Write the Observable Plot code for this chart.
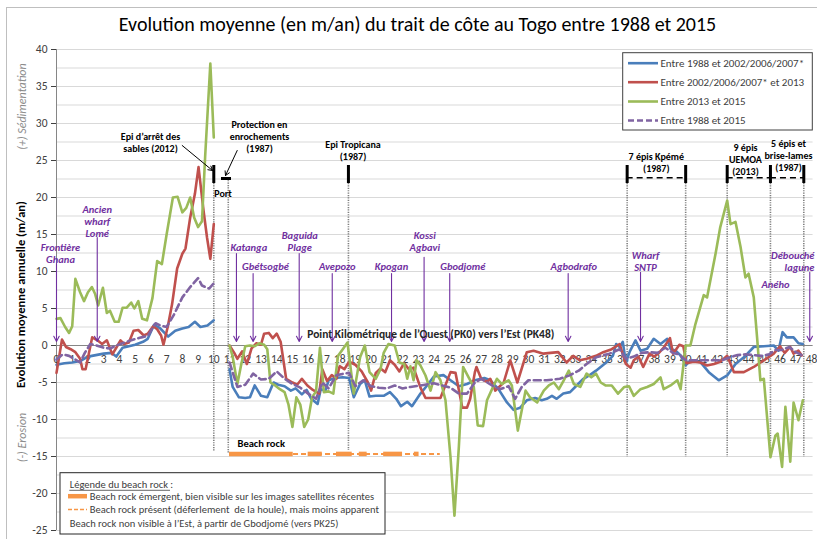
<!DOCTYPE html>
<html><head><meta charset="utf-8">
<script src="https://cdn.jsdelivr.net/npm/d3@7"></script>
<script src="https://cdn.jsdelivr.net/npm/@observablehq/plot@0.6"></script>
<style>
body{margin:0;background:#fff;}
svg{display:block;overflow:hidden !important;}
</style>
</head><body><div id="chart"></div>
<script>
// ---------- DATA ----------
const titleText = "Evolution moyenne (en m/an) du trait de côte au Togo entre 1988 et 2015";
const seriesNames = ["Entre 1988 et 2002/2006/2007*", "Entre 2002/2006/2007* et 2013", "Entre 2013 et 2015", "Entre 1988 et 2015"];
const seriesColors = ["#4a7ebb", "#c0504d", "#9bbb59", "#8064a2"];
const xTickLabels = [0,1,2,3,4,5,6,7,8,9,10,11,12,13,14,15,16,17,18,19,20,21,22,23,24,25,26,27,28,29,30,31,32,33,34,35,36,37,38,39,40,41,42,43,44,45,46,47,48];
const yTickLabels = [40,35,30,25,20,15,10,5,0,-5,-10,-15,-20,-25];
const yGridValues = [40,37.5,35,32.5,30,27.5,25,22.5,20,17.5,15,12.5,10,7.5,5,2.5,0,-2.5,-5,-7.5,-10,-12.5,-15,-17.5,-20,-22.5,-25];

// West of the port (PK0 - PK10)
const blueWestPk = [0,0.5,1,1.5,2,2.5,3,3.5,3.8,4.2,4.6,5,5.5,5.8,6.2,6.6,7.1,7.55,8,8.4,8.8,9.15,9.6,10];
const blueWestV  = [-2.6,-2.4,-2.3,-2.1,-1.5,-1.3,-1.1,-1.0,-1.5,-0.3,-0.1,0.1,0.5,0.9,2.8,2.3,1.2,2.0,2.3,2.5,3.2,2.5,2.7,3.4];
const redWestPk = [0,0.35,0.6,0.9,1.2,1.5,1.65,1.85,2.27,2.6,2.9,3.2,3.55,3.8,4.07,4.3,4.6,4.9,5.2,5.55,5.8,6.15,6.4,6.65,6.8,7.07,7.35,7.67,8.0,8.2,8.5,8.8,9.03,9.35,9.57,9.78,10];
const redWestV  = [-3.7,0.8,-0.2,-0.5,-0.9,-1.8,-3.2,-3.2,1.1,0.7,0.2,0.7,-1.2,-0.3,0.7,0.2,0.4,2.0,2.1,1.35,1.6,2.6,2.2,1.35,0.1,2.5,5.6,10.4,12.4,13.1,17.3,20.5,24.1,18.2,14.6,11.7,16.4];
const greenWestPk = [0,0.25,0.55,0.8,1.0,1.2,1.5,1.75,2.0,2.25,2.45,2.65,2.95,3.2,3.4,3.7,3.95,4.2,4.45,4.75,4.95,5.2,5.45,5.75,6.1,6.4,6.7,7.0,7.4,7.7,8.0,8.25,8.5,8.75,9.0,9.25,9.45,9.78,10];
const greenWestV  = [3.6,3.7,2.5,1.7,2.6,9.0,7.2,6.0,7.2,7.9,7.0,5.4,7.8,4.4,4.7,3.2,3.2,5.1,5.1,5.8,5.0,6.0,3.6,3.4,6.4,11.4,11.0,15.0,20.0,20.1,18.0,18.6,20.0,17.3,16.0,16.8,25.5,38.1,28.1];
const purpleWestPk = [0,0.4,0.8,1.2,1.5,1.8,2.15,2.4,2.7,3.0,3.4,3.8,4.2,4.6,4.9,5.4,5.8,6.3,6.6,7.0,7.45,8.0,8.5,9.0,9.25,9.7,10];
const purpleWestV  = [-1.9,-1.2,-1.4,-1.9,-2.3,-1.0,0.2,0.1,-0.1,-0.3,-0.4,0.0,0.3,0.6,0.8,1.1,1.3,3.0,2.7,2.5,4.1,6.5,7.9,9.1,8.1,7.7,8.4];

// East of the port (PK11 - PK47.5)
const blueEastPk = [11.0,11.2,11.6,12.0,12.3,12.6,13.0,13.4,13.8,14.1,14.5,14.9,15.2,15.6,15.9,16.2,16.6,16.8,17.1,17.3,17.7,18.2,18.6,18.9,19.3,19.6,19.9,20.3,20.8,21.2,21.6,21.9,22.3,22.6,23.14,23.56,23.99,24.6,25.05,25.58,26.1,26.6,27.2,27.58,28.1,28.64,29.06,29.48,29.9,30.43,30.85,31.17,31.5,31.8,32.22,32.65,33.07,33.5,33.9,34.3,34.95,35.37,35.58,35.8,36.0,36.2,36.45,36.81,37.13,37.55,37.97,38.4,38.83,39.04,39.36,39.68,40.0,40.3,40.94,41.47,42.1,42.64,43.17,43.7,44.33,44.97,45.6,45.9,46.16,46.43,46.86,47.17,47.45];
const blueEastV  = [-3.2,-5.6,-7.0,-7.1,-7.0,-5.4,-6.8,-7.0,-5.0,-5.3,-5.5,-6.1,-5.8,-6.6,-6.0,-7.2,-7.9,-5.9,-6.1,-4.7,-4.4,-4.3,-4.4,-7.0,-5.2,-4.7,-6.9,-6.8,-6.8,-6.3,-7.2,-8.2,-7.6,-8.2,-6.5,-5.4,-4.2,-4.0,-4.7,-5.5,-5.2,-4.7,-4.4,-4.7,-5.9,-7.7,-8.7,-8.4,-7.4,-7.1,-7.4,-7.2,-6.8,-7.2,-6.5,-6.3,-5.4,-4.5,-4.0,-3.4,-2.3,-1.4,0.2,-0.2,0.5,-2.3,-0.8,0.7,-0.7,-0.45,0.9,0.2,0.9,-0.45,-0.7,-1.35,-2.7,-2.0,-2.25,-3.6,-4.7,-4.05,-2.5,-1.6,-0.2,-0.1,0.0,-0.7,1.8,1.1,1.1,0.3,0.2];
const redEastPk = [11.0,11.3,11.5,11.8,12.1,12.4,12.7,13.0,13.2,13.5,13.75,14.0,14.25,14.6,15.0,15.3,15.6,15.95,16.3,16.7,16.9,17.2,17.5,17.8,18.0,18.3,18.6,19.0,19.4,19.8,20.0,20.3,20.6,20.9,21.2,21.5,21.8,22.1,22.4,22.7,23.14,23.46,24.41,25.05,25.37,25.8,26.1,26.3,26.6,26.7,27.0,27.37,27.58,27.9,28.43,28.85,29.3,29.9,30.33,30.96,31.4,31.9,32.43,32.85,33.28,33.7,34.3,34.76,35.3,35.8,36.2,36.5,36.7,37.0,37.3,37.7,38.0,38.3,38.6,39.0,39.2,39.6,39.85,40.05,40.5,40.94,41.36,41.8,42.2,42.64,43.07,43.7,44.33,44.97,45.6,46.0,46.3,46.65,46.86,47.17,47.38];
const redEastV  = [0.0,-1.0,-1.8,-0.8,-2.5,-0.4,0.3,0.1,1.6,1.7,1.0,1.6,0.5,-4.5,-5.0,-5.3,-4.5,-5.4,-6.0,-6.5,-3.2,-4.8,-4.0,-4.5,-2.8,-3.2,-2.2,-2.6,-3.5,-5.0,-6.1,-3.7,-3.1,-3.6,-2.0,-2.6,-3.5,-2.4,-3.2,-3.0,-5.7,-7.1,-7.1,-3.6,-3.7,-8.4,-8.4,-7.2,-3.6,-2.9,-4.5,-4.9,-4.5,-6.1,-5.0,-2.0,-5.0,-0.9,-0.7,-1.1,-1.0,-0.9,-2.3,-1.4,-2.0,-1.8,-1.4,-0.9,-0.5,0.2,-2.5,-3.0,-2.0,-1.5,-2.9,-1.1,-1.5,-1.0,-0.3,1.0,-1.1,0.1,-0.1,-2.4,-2.2,-2.3,-2.7,-2.5,-2.2,-1.4,-3.6,-3.6,-2.9,-2.0,-1.1,-0.1,-1.0,-0.2,-1.1,-0.7,-1.35];
const greenEastPk = [11.0,11.2,11.5,11.75,12.0,12.3,12.6,12.9,13.2,13.4,13.6,13.9,14.2,14.5,14.75,15.0,15.25,15.5,15.75,16.0,16.25,16.5,16.75,17.0,17.3,17.6,17.9,18.2,18.5,18.9,19.3,19.6,19.9,20.3,20.6,20.8,21.1,21.5,21.8,22.1,22.3,22.5,22.7,22.9,23.14,23.46,23.78,24.1,24.41,24.73,25.05,25.3,25.58,25.85,26.2,26.53,26.78,27.12,27.37,27.69,28.0,28.3,28.74,28.95,29.33,29.82,30.1,30.56,30.98,31.3,31.62,31.94,32.25,32.57,32.89,33.3,33.7,34.0,34.3,34.6,34.9,35.3,35.7,36.1,36.4,36.7,37.13,37.55,37.97,38.4,38.6,39.04,39.47,39.68,40.0,40.3,40.62,41.15,41.36,41.9,42.2,42.64,42.85,43.17,43.49,43.8,44.0,44.33,44.54,44.75,44.97,45.39,45.7,45.85,46.13,46.34,46.65,46.86,47.17,47.45];
const greenEastV  = [0.0,-1.5,-5.2,-2.5,-0.1,0.0,-0.1,0.3,0.1,-0.5,-5.0,-5.4,-5.9,-6.3,-8.0,-11.0,-7.0,-8.0,-11.0,-10.0,-7.0,-6.2,-0.3,-6.3,-6.2,-6.5,-1.4,-0.5,0.4,-6.5,-1.6,0.0,-3.6,-4.5,-3.2,-1.0,0.2,0.0,-2.3,-2.5,-4.5,-2.8,-4.7,-2.0,-2.7,-4.05,-6.1,-3.6,-4.7,-7.4,-15.1,-23.0,-13.7,-2.9,-4.3,-5.6,-10.8,-10.9,-7.4,-5.9,-4.5,-5.2,-4.7,-5.4,-11.5,-6.1,-7.0,-7.7,-6.1,-5.4,-5.0,-5.9,-4.7,-3.4,-5.2,-5.6,-3.8,-4.3,-3.8,-5.0,-5.4,-5.4,-6.5,-5.6,-5.5,-6.8,-5.9,-5.6,-5.2,-4.3,-5.9,-5.4,-4.7,-5.9,0.0,0.0,2.9,6.8,6.5,12.4,16.0,19.6,16.4,16.7,13.3,9.2,9.7,6.5,1.1,-4.7,-4.5,-15.1,-12.2,-11.9,-16.4,-8.3,-15.7,-7.7,-10.1,-7.4];
const purpleEastPk = [11.0,11.5,12.0,12.5,13.0,13.5,14.0,14.5,15.0,15.5,16.0,16.5,16.9,17.3,17.8,18.3,18.6,19.0,19.5,20.0,20.5,21.0,21.5,22.0,22.5,23.14,23.99,25.05,25.58,26.1,26.6,27.0,27.69,28.2,28.74,29.16,29.58,30.0,31.17,32.0,32.65,33.2,33.7,34.3,35.16,35.8,36.2,36.7,37.2,37.7,38.2,38.7,39.2,39.6,40.0,40.6,41.2,41.8,42.3,42.8,43.3,43.8,44.3,44.8,45.3,45.7,46.1,46.6,47.0,47.4];
const purpleEastV  = [-2.3,-5.6,-5.3,-3.8,-4.6,-4.5,-3.5,-4.5,-5.2,-5.7,-6.5,-7.2,-5.0,-5.8,-4.0,-3.8,-3.7,-5.5,-4.7,-5.5,-5.7,-5.8,-5.4,-5.8,-5.6,-5.4,-5.1,-5.7,-6.5,-6.5,-5.0,-4.5,-5.4,-5.9,-5.5,-7.2,-5.6,-4.7,-4.7,-4.5,-4.0,-3.4,-2.5,-1.6,-1.1,-0.5,-1.8,-1.5,-1.0,-0.9,-1.0,-0.3,-1.0,-1.2,-2.0,-2.0,-2.0,-2.0,-2.0,-1.6,-1.3,-1.2,-1.3,-1.4,-1.2,-0.6,-0.6,-0.2,-0.9,-1.3];

// Beach rock (PK ranges)
const beachRockPresent = [[11.0, 24.4]];
const beachRockEmergent = [[11.0,15.05],[16.0,16.9],[17.8,18.8],[19.25,19.75],[20.8,22.0],[22.75,23.05]];
const beachLegendTexts = ["Beach rock émergent, bien visible sur les images satellites récentes", "Beach rock présent (déferlement  de la houle), mais moins apparent", "Beach rock non visible à l’Est, à partir de Gbodjomé (vers PK25)"];

// Localities (purple) and coastal structures (black)
const placeNames = ["Frontière\nGhana","Ancien\nwharf\nLomé","Katanga","Gbétsogbé","Baguida\nPlage","Avepozo","Kpogan","Kossi\nAgbavi","Gbodjomé","Agbodrafo","Wharf\nSNTP","Aného"];
const placePk = [0, 2.59, 11.44, 12.5, 15.43, 17.53, 21.3, 23.37, 25.0, 32.53, 37.13, null];
const edgePlaceName = "Débouché\nlagune";
const edgePlacePk = 47.89;
const structureNames = ["Epi d’arrêt des\nsables (2012)","Protection en\nenrochements\n(1987)","Port","Epi Tropicana\n(1987)","7 épis Kpémé\n(1987)","9 épis\nUEMOA\n(2013)","5 épis et\nbrise-lames\n(1987)"];
const structurePk = [10.0, 18.56, 36.28, 40.0, 42.64, 45.39, 47.51];
const dottedPk = [10.0, 10.92, 18.56, 36.28, 40.0, 42.64, 45.39, 47.51];
const groupedStructures = [[36.28, 40.0], [42.64, 45.39], [45.39, 47.51]];

// ---------- LAYOUT HELPERS (pixel estimate -> data units) ----------
const X = px => (px - 56) * 48 / 755;
const Y = py => (345 - py) / 7.4;
const FONT = "Carlito, Lato, 'Open Sans', sans-serif";
const PURPLE = "#7030a0";
const ORANGE = "#f79646";

function rows(pk, v, seg) { return pk.map((p, i) => ({pk: p, v: v[i], seg})); }
const blueData = [...rows(blueWestPk, blueWestV, "w"), ...rows(blueEastPk, blueEastV, "e")];
const redData = [...rows(redWestPk, redWestV, "w"), ...rows(redEastPk, redEastV, "e")];
const greenData = [...rows(greenWestPk, greenWestV, "w"), ...rows(greenEastPk, greenEastV, "e")];
const purpleData = [...rows(purpleWestPk, purpleWestV, "w"), ...rows(purpleEastPk, purpleEastV, "e")];

const placeLabelPx = [[60,253],[96.7,220.8],[248.3,246.7],[265,266],[299.3,240.5],[336.7,266],[391,266],[424.3,240.5],[462.3,266],[573.3,266],[645,261],[775,284]];
const placeArrowTopPx = [263,237,253,273,253,273,273,256.7,273,273,271.7,null];
const places = placeNames.map((name, i) => ({
  name, lx: X(placeLabelPx[i][0]), ly: Y(placeLabelPx[i][1]),
  ax: placePk[i], ay1: placeArrowTopPx[i] == null ? null : Y(placeArrowTopPx[i]), ay2: Y(341)
}));
places.push({name: edgePlaceName, lx: null, ly: null, ax: edgePlacePk, ay1: Y(271.7), ay2: Y(341)});
const structLabelPx = [[150,141.5],[259,135.3],[222.5,192.7],[352.5,149.2],[655.8,161.7],[745,159],[788,155]];
const structs = structureNames.map((name, i) => ({name, x: X(structLabelPx[i][0]), y: Y(structLabelPx[i][1])}));
const dottedBottom = [-14.4, -14.6, -14.2, -15.1, -15.1, -15.1, -15.1, -15.1];
const dottedTop = [21.9, 22.6, 21.9, 21.9, 21.9, 21.9, 21.9, 21.9];
const dotted = dottedPk.map((p, i) => ({pk: p, top: dottedTop[i], bottom: dottedBottom[i]}));

const legendRows = seriesNames.map((name, i) => ({name, color: seriesColors[i], y: Y([62.7,81.7,101,120][i])}));
const legendSolid = legendRows.slice(0, 3);
const legendDashed = legendRows.slice(3);

const chart = Plot.plot({
  width: 817, height: 539,
  marginLeft: 56, marginRight: 6, marginTop: 49, marginBottom: 9,
  x: {domain: [0, 48], axis: null},
  y: {domain: [-25, 40], ticks: yTickLabels, tickSize: 5, tickPadding: 4, label: null, tickFormat: d => String(d), fontSize: 11.5},
  style: {fontFamily: FONT, fontSize: "11.5px", color: "#404040", background: "white"},
  marks: [
    // outer chart border
    Plot.rect([0], {x1: X(6.5), x2: X(900), y1: Y(7.5), y2: Y(700), fill: "none", stroke: "#bfbfbf", strokeWidth: 1}),
    // grid
    Plot.ruleY(yGridValues, {x1: 0, x2: 48.1, stroke: "#d9d9d9", strokeWidth: 1}),
    Plot.ruleX([0], {y1: -25, y2: 40, stroke: "#868686"}),
    Plot.ruleY([0], {x1: 0, x2: 48.1, stroke: "#868686"}),
    // x tick labels on zero line
    Plot.text(xTickLabels, {x: d => d, y: 0, dy: 14, text: d => String(d), fontSize: 11.5, fill: "#404040"}),
    // beach rock
    Plot.ruleY(beachRockPresent, {x1: d => d[0], x2: d => d[1], y: -14.65, stroke: ORANGE, strokeWidth: 2, strokeDasharray: "5,3"}),
    Plot.ruleY(beachRockEmergent, {x1: d => d[0], x2: d => d[1], y: -14.65, stroke: ORANGE, strokeWidth: 4.5}),
    Plot.text(["Beach rock"], {x: X(237), y: Y(442.7), text: d => d, textAnchor: "start", fontWeight: "bold", fontSize: 10.5, fill: "#000"}),
    // dotted structure lines
    Plot.ruleX(dotted, {x: "pk", y1: "top", y2: "bottom", stroke: "#7f7f7f", strokeWidth: 1.6, strokeDasharray: "1.2,1.2"}),
    // structure markers
    Plot.ruleX(structurePk, {x: d => d, y1: Y(183), y2: Y(165), stroke: "#000", strokeWidth: 3}),
    Plot.ruleY(groupedStructures, {x1: d => d[0], x2: d => d[1], y: Y(177.3), stroke: "#000", strokeWidth: 1.6, strokeDasharray: "6,4"}),
    Plot.ruleY([0], {x1: X(221), x2: X(231), y: Y(178), stroke: "#000", strokeWidth: 3}),
    // series
    Plot.line(blueData, {x: "pk", y: "v", z: "seg", stroke: seriesColors[0], strokeWidth: 2.6}),
    Plot.line(redData, {x: "pk", y: "v", z: "seg", stroke: seriesColors[1], strokeWidth: 2.6}),
    Plot.line(greenData, {x: "pk", y: "v", z: "seg", stroke: seriesColors[2], strokeWidth: 2.6}),
    Plot.line(purpleData, {x: "pk", y: "v", z: "seg", stroke: seriesColors[3], strokeWidth: 2.6, strokeDasharray: "7,4"}),
    // localities
    Plot.arrow(places.filter(d => d.ay1 != null), {x1: "ax", x2: "ax", y1: "ay1", y2: "ay2", stroke: PURPLE, strokeWidth: 1.1, headLength: 8, headAngle: 55}),
    Plot.text(places.filter(d => d.lx != null), {x: "lx", y: "ly", text: "name", fill: PURPLE, fontStyle: "italic", fontWeight: "bold", fontSize: 10.5, lineHeight: 1.15}),
    Plot.text([edgePlaceName], {x: X(814), y: Y(260.7), text: d => d, textAnchor: "end", fill: PURPLE, fontStyle: "italic", fontWeight: "bold", fontSize: 10.5, lineHeight: 1.15}),
    // structures
    Plot.text(structs, {x: "x", y: "y", text: "name", fill: "#000", fontWeight: "bold", fontSize: 10, lineHeight: 1.2}),
    Plot.arrow([0], {x1: X(181.7), y1: Y(145), x2: X(212), y2: Y(170), stroke: "#000", strokeWidth: 1, headLength: 7}),
    Plot.arrow([0], {x1: X(236.7), y1: Y(150), x2: X(225), y2: Y(175), stroke: "#000", strokeWidth: 1, headLength: 7}),
    // x axis title
    Plot.text(["Point Kilométrique de l’Ouest (PK0) vers l’Est (PK48)"], {x: X(306.7), y: Y(334), text: d => d, textAnchor: "start", fontWeight: "bold", fontSize: 11.5, fill: "#262626"}),
    // series legend
    Plot.rect([0], {x1: X(622.7), x2: X(812.3), y1: Y(52.7), y2: Y(130), fill: "white", stroke: "#404040"}),
    Plot.ruleY(legendSolid, {y: "y", x1: X(628), x2: X(658), stroke: "color", strokeWidth: 2.6}),
    Plot.ruleY(legendDashed, {y: "y", x1: X(628), x2: X(658), stroke: "color", strokeWidth: 2.6, strokeDasharray: "6,3"}),
    Plot.text(legendRows, {x: X(660), y: "y", text: "name", textAnchor: "start", fontSize: 11, fill: "#404040"}),
    // beach rock legend
    Plot.rect([0], {x1: X(60), x2: X(385), y1: Y(472.7), y2: Y(534), fill: "white", stroke: "#262626"}),
    Plot.text(["Légende du beach rock :"], {x: X(69.3), y: Y(484), text: d => d, textAnchor: "start", fontSize: 10.5, fill: "#404040"}),
    Plot.ruleY([0], {x1: X(69.3), x2: X(170), y: Y(489.8), stroke: "#404040", strokeWidth: 0.8}),
    Plot.ruleY([0], {x1: X(68), x2: X(87), y: Y(495.7), stroke: ORANGE, strokeWidth: 4.5}),
    Plot.ruleY([0], {x1: X(68), x2: X(87), y: Y(509), stroke: ORANGE, strokeWidth: 1.6, strokeDasharray: "4,2"}),
    Plot.text(beachLegendTexts.slice(0, 2), {x: X(89.3), y: (d, i) => i === 0 ? Y(495.7) : Y(509), text: d => d, textAnchor: "start", fontSize: 10.5, fill: "#404040"}),
    Plot.text(beachLegendTexts.slice(2), {x: X(69.3), y: Y(523.3), text: d => d, textAnchor: "start", fontSize: 10.5, fill: "#404040"}),
    // y titles
    Plot.text(["Evolution moyenne annuelle (m/an)"], {x: X(20), y: Y(294), text: d => d, rotate: -90, fontWeight: "bold", fontSize: 12.5, fill: "#000"}),
    Plot.text(["(+) Sédimentation"], {x: X(21.7), y: Y(106), text: d => d, rotate: -90, fontStyle: "italic", fontSize: 12, fill: "#8c8c8c"}),
    Plot.text(["(-) Erosion"], {x: X(21.7), y: Y(437), text: d => d, rotate: -90, fontStyle: "italic", fontSize: 12, fill: "#8c8c8c"}),
    // title
    Plot.text([titleText], {x: X(417), y: Y(24), text: d => d, fontSize: 20, fill: "#000"})
  ]
});
document.getElementById("chart").appendChild(chart);
</script>
</body></html>
